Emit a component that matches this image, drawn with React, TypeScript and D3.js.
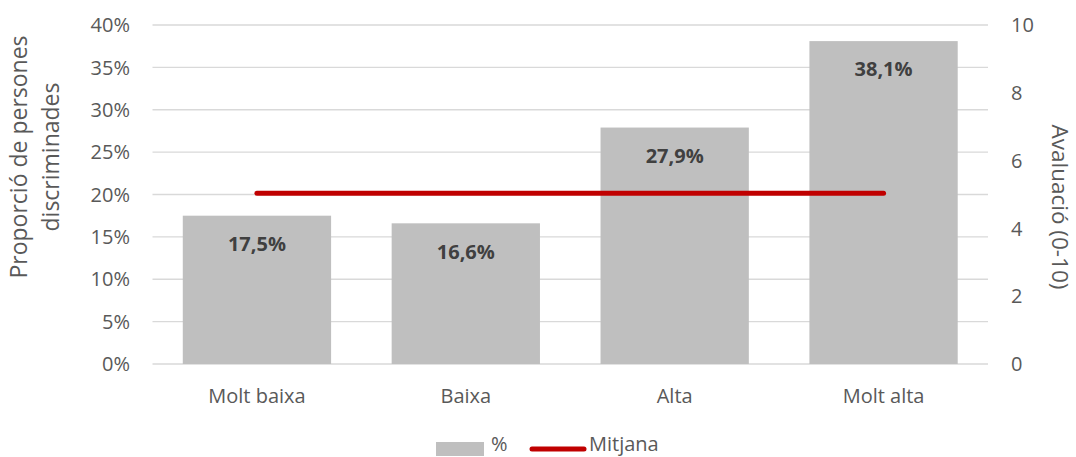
import React from "react";
import * as d3 from "d3";

const categories = ["Molt baixa", "Baixa", "Alta", "Molt alta"];
const percentValues = [17.5, 16.6, 27.9, 38.1];
const meanValues = [5.04, 5.04, 5.04, 5.04];
const leftTicks = [0, 5, 10, 15, 20, 25, 30, 35, 40];
const rightTicks = [0, 2, 4, 6, 8, 10];
const leftTitle = ["Proporció de persones", "discriminades"];
const rightTitle = "Avaluació (0-10)";
const legendLabels = ["%", "Mitjana"];

const W = 1076;
const H = 457;
const FONT = "'Open Sans', sans-serif";
const TEXT = "#595959";

export default function App() {
  const x = d3.scaleBand<string>().domain(categories).range([152.5, 988]).paddingInner(0.29).paddingOuter(0.145);
  const yL = d3.scaleLinear().domain([0, 40]).range([364, 25]);
  const yR = d3.scaleLinear().domain([0, 10]).range([364, 25]);
  const line = d3
    .line<number>()
    .x((_, i) => (x(categories[i]) as number) + x.bandwidth() / 2)
    .y((d) => yR(d));

  return (
    <svg width={W} height={H} style={{ position: "absolute", left: 0, top: 0, background: "#fff" }} fontFamily={FONT}>
      {leftTicks.map((t) => (
        <g key={t}>
          <line x1={152.5} x2={988} y1={yL(t)} y2={yL(t)} stroke="#d9d9d9" strokeWidth={1.3} />
          <text x={130} y={yL(t)} dy="0.36em" textAnchor="end" fontSize={20} fill={TEXT}>
            {t}%
          </text>
        </g>
      ))}
      {rightTicks.map((t) => (
        <text key={t} x={1011} y={yR(t)} dy="0.36em" textAnchor="start" fontSize={20} fill={TEXT}>
          {t}
        </text>
      ))}
      {percentValues.map((v, i) => (
        <g key={categories[i]}>
          <rect x={x(categories[i])} y={yL(v)} width={x.bandwidth()} height={yL(0) - yL(v)} fill="#bfbfbf" />
          <text
            x={(x(categories[i]) as number) + x.bandwidth() / 2}
            y={yL(v) + 28}
            dy="0.36em"
            textAnchor="middle"
            fontSize={20}
            fontWeight="bold"
            fill="#404040"
          >
            {d3.format(".1f")(v).replace(".", ",")}%
          </text>
          <text
            x={(x(categories[i]) as number) + x.bandwidth() / 2}
            y={396}
            dy="0.36em"
            textAnchor="middle"
            fontSize={20}
            fill={TEXT}
          >
            {categories[i]}
          </text>
        </g>
      ))}
      <path d={line(meanValues) || ""} fill="none" stroke="#c00000" strokeWidth={5} strokeLinecap="round" />
      <text transform="translate(19,157) rotate(-90)" textAnchor="middle" dy="0.36em" fontSize={23} fill={TEXT}>
        {leftTitle[0]}
      </text>
      <text transform="translate(51,157) rotate(-90)" textAnchor="middle" dy="0.36em" fontSize={23} fill={TEXT}>
        {leftTitle[1]}
      </text>
      <text transform="translate(1060,207) rotate(90)" textAnchor="middle" dy="0.36em" fontSize={22.5} fill={TEXT}>
        {rightTitle}
      </text>
      <rect x={436} y={442} width={48} height={14} fill="#bfbfbf" />
      <text x={491} y={444} dy="0.36em" fontSize={20} fill={TEXT}>
        {legendLabels[0]}
      </text>
      <line x1={532} x2={584} y1={449} y2={449} stroke="#c00000" strokeWidth={5} strokeLinecap="round" />
      <text x={589} y={444} dy="0.36em" fontSize={20} fill={TEXT}>
        {legendLabels[1]}
      </text>
    </svg>
  );
}
